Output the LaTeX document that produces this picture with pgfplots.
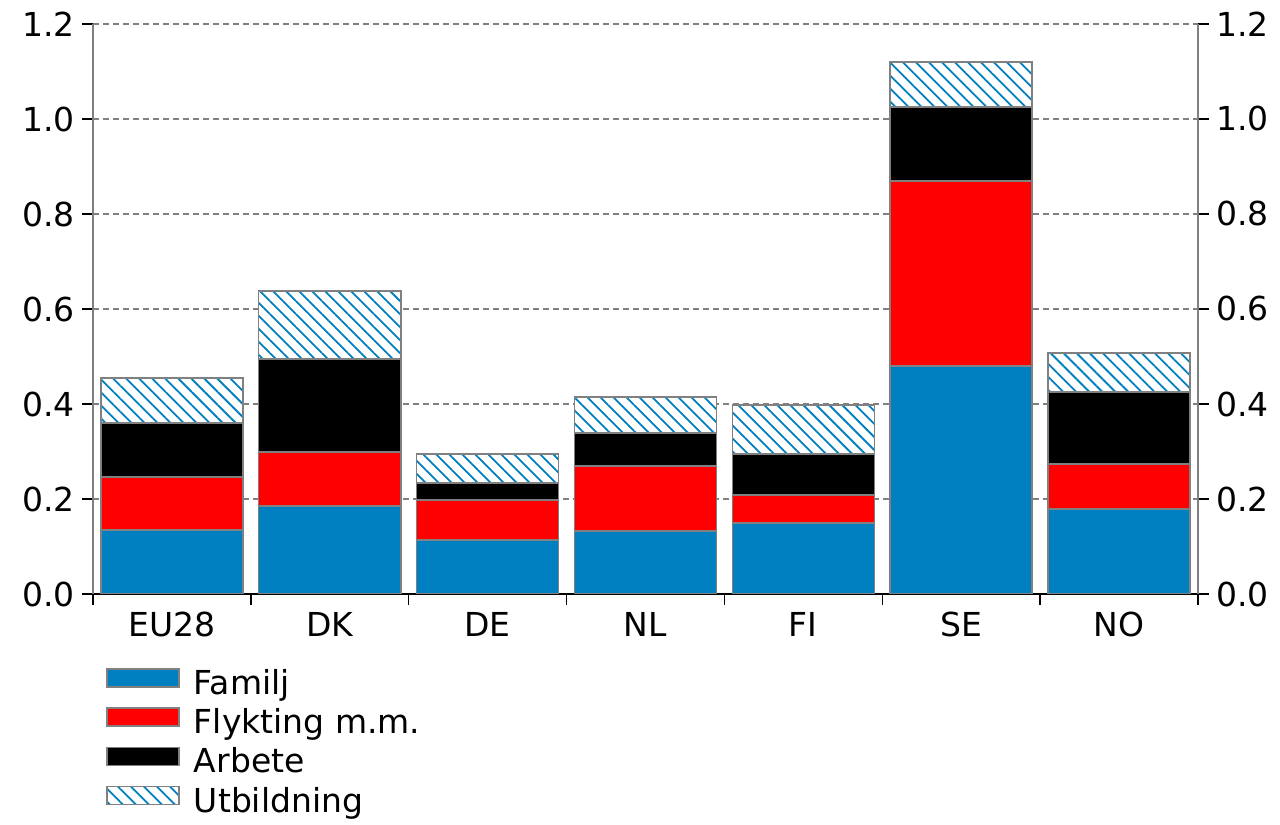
\documentclass[border=0pt]{standalone}
\usepackage{fontspec}
\setmainfont{DejaVu Sans}
\usepackage{pgfplots}
\pgfplotsset{compat=1.18}
\usetikzlibrary{patterns.meta}

\definecolor{famblue}{HTML}{0080C0}
\definecolor{edgegray}{HTML}{808080}
\newcommand\cf{\fontsize{16.5pt}{19pt}\selectfont}

\pgfplotsset{
  frame/.style={
    scale only axis, width=552.5pt, height=285pt,
    xmin=-0.5, xmax=6.5, ymin=0, ymax=1.2,
    ytick={0,0.2,0.4,0.6,0.8,1.0,1.2},
    yticklabel style={/pgf/number format/.cd, fixed, fixed zerofill, precision=1},
    /pgf/number format/assume math mode=true,
    tick label style={font=\cf},
    tick align=outside, major tick length=5.5pt,
    tick style={black, line width=0.75pt},
    y axis line style={edgegray, line width=0.75pt},
  },
}

\begin{document}
\begin{tikzpicture}
\begin{axis}[
  frame,
  ybar stacked, bar width=0.9,
  legend image code/.code={\draw[#1] (0pt,1pt) rectangle (36pt,10pt);},
  axis x line*=bottom, axis y line*=left,
  x axis line style={black, line width=0.75pt},
  xtick={-0.5,0.5,1.5,2.5,3.5,4.5,5.5,6.5},
  xticklabels={EU28,DK,DE,NL,FI,SE,NO},
  x tick label as interval,
  ymajorgrids,
  grid style={edgegray, dash pattern=on 3pt off 2pt, line width=0.75pt},
  every axis plot/.append style={draw=edgegray, line width=0.75pt},
  legend style={at={(axis description cs:0.0118,-0.1298)}, anchor=north west,
    draw=none, fill=none, inner sep=0pt, row sep=0pt, column sep=7pt,
    font=\cf, nodes={inner sep=0pt, text height=12pt, text depth=6.35pt}},
  legend cell align=left,
]
% Familj
\addplot[fill=famblue] coordinates {(0,0.135) (1,0.185) (2,0.114) (3,0.133) (4,0.149) (5,0.480) (6,0.179)};
% Flykting m.m.
\addplot[fill=red] coordinates {(0,0.111) (1,0.114) (2,0.084) (3,0.136) (4,0.059) (5,0.389) (6,0.095)};
% Arbete
\addplot[fill=black] coordinates {(0,0.114) (1,0.196) (2,0.036) (3,0.070) (4,0.087) (5,0.156) (6,0.151)};
% Utbildning
\addplot[fill=white, postaction={pattern={Lines[angle=-45, distance=4.6pt, line width=0.9pt]}, pattern color=famblue}]
  coordinates {(0,0.095) (1,0.143) (2,0.061) (3,0.076) (4,0.103) (5,0.095) (6,0.082)};
\legend{Familj, Flykting m.m., Arbete, Utbildning}
\end{axis}
\begin{axis}[
  frame,
  axis x line=none, axis y line*=right,
]
\end{axis}
\path (-46.5pt,-105.5pt) rectangle (593.5pt,297pt);
\end{tikzpicture}
\end{document}
